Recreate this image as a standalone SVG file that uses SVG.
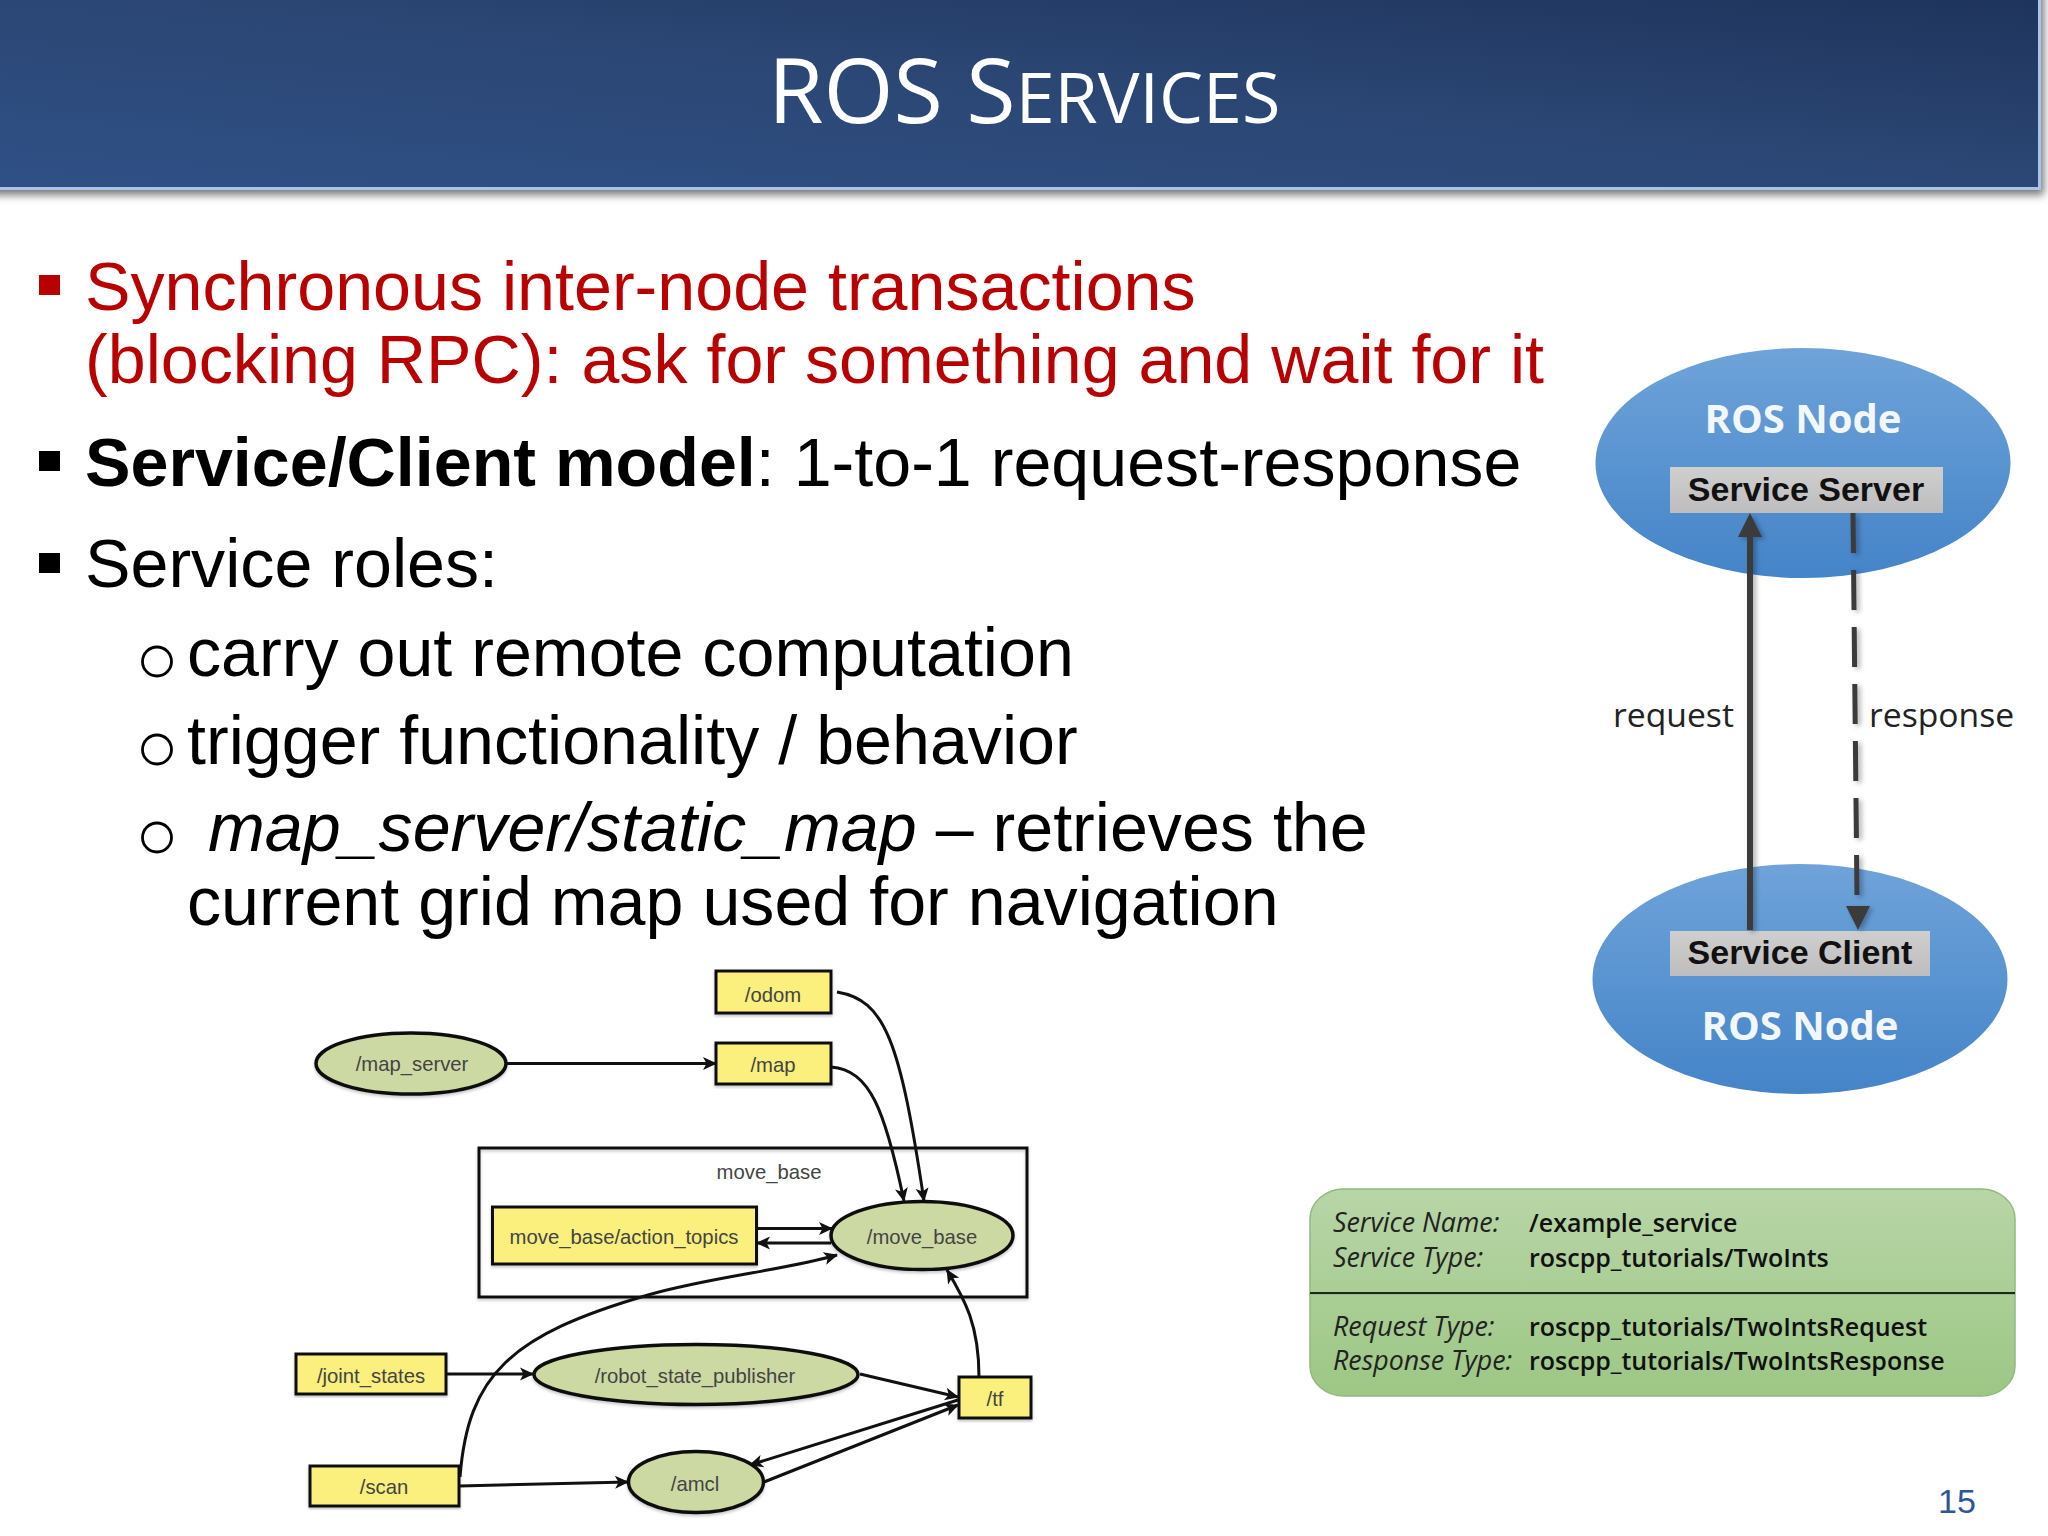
<svg xmlns="http://www.w3.org/2000/svg" width="2048" height="1536" viewBox="0 0 2048 1536">
<style>
.b{font-family:"Liberation Sans",Arial,sans-serif;font-size:68.200px;fill:#000}
.red{fill:#b80000}
.rc{fill:#fbef7e;stroke:#111;stroke-width:3}
.el{fill:#cdd9a3;stroke:#111;stroke-width:3.500}
.gl{font-family:"Liberation Sans",Arial,sans-serif;font-size:20.300px;fill:#444;text-anchor:middle}
.e{fill:none;stroke:#111;stroke-width:3;marker-end:url(#ah)}
.grn{fill:#111;font-family:"Open Sans","Noto Sans",sans-serif}
.it{font-style:italic;fill:#222;font-size:26.800px}
.sm{font-weight:600;font-size:25px}
.rn{font-family:"Open Sans","Noto Sans",sans-serif;font-weight:700;font-size:40px;fill:#f1f7fb}
.sv{font-family:"Liberation Sans",Arial,sans-serif;font-weight:700;font-size:34px;fill:#111}
.lab{font-family:"Open Sans","Noto Sans",sans-serif;font-size:33.700px;fill:#222}
</style>
<defs>
<linearGradient id="hdr" x1="0" y1="1" x2="1" y2="0"><stop offset="0" stop-color="#2f5086"/><stop offset="0.55" stop-color="#2b4673"/><stop offset="1" stop-color="#1e345c"/></linearGradient>
<linearGradient id="blue" x1="0" y1="0" x2="0" y2="1"><stop offset="0" stop-color="#6fa3d9"/><stop offset="1" stop-color="#4484c8"/></linearGradient>
<linearGradient id="grn" x1="0" y1="0" x2="0" y2="1"><stop offset="0" stop-color="#b8d5a7"/><stop offset="1" stop-color="#9dc785"/></linearGradient>
<linearGradient id="gb" x1="0" y1="0" x2="0" y2="1"><stop offset="0" stop-color="#cfcfcf"/><stop offset="1" stop-color="#bdbdbd"/></linearGradient>
<filter id="hs" x="-2%" y="-10%" width="104%" height="125%"><feGaussianBlur stdDeviation="4"/></filter>
<filter id="ds" x="-20%" y="-20%" width="140%" height="140%"><feDropShadow dx="3" dy="2" stdDeviation="2.500" flood-color="#000" flood-opacity="0.3"/></filter>
<filter id="gs" x="-5%" y="-10%" width="110%" height="120%"><feDropShadow dx="0" dy="2" stdDeviation="1.500" flood-color="#000" flood-opacity="0.22"/></filter>
<marker id="ah" markerUnits="userSpaceOnUse" markerWidth="16" markerHeight="16" refX="14" refY="8" orient="auto"><path d="M1 1.500 L15 8 L1 14.500 L4.500 8 Z" fill="#111"/></marker>
</defs>
<rect width="2048" height="1536" fill="#fff"/>
<g id="header">
<rect x="-20" y="-20" width="2064" height="215" fill="#777" filter="url(#hs)"/>
<rect x="0" y="0" width="2041" height="190" fill="#a9c4e8"/>
<rect x="0" y="0" width="2038" height="187" fill="url(#hdr)"/>
<text x="768" y="123" font-family="'Open Sans','Noto Sans',sans-serif" font-size="90" fill="#fff">ROS S<tspan font-size="70">ERVICES</tspan></text>
</g>
<g id="bullets">
<rect x="39" y="275" width="21" height="20" fill="#b80000"/>
<rect x="39" y="451" width="21" height="20" fill="#000"/>
<rect x="39" y="553" width="21" height="20" fill="#000"/>
<circle cx="157" cy="661.500" r="14.500" fill="none" stroke="#000" stroke-width="2.800"/>
<circle cx="157" cy="749.500" r="14.500" fill="none" stroke="#000" stroke-width="2.800"/>
<circle cx="157" cy="837.500" r="14.500" fill="none" stroke="#000" stroke-width="2.800"/>
<text class="b red" x="85" y="310">Synchronous inter-node transactions</text>
<text class="b red" x="85" y="383">(blocking RPC): ask for something and wait for it</text>
<text class="b" x="85" y="486"><tspan font-weight="700">Service/Client model</tspan>: 1-to-1 request-response</text>
<text class="b" x="85" y="587">Service roles:</text>
<text class="b" x="187" y="676">carry out remote computation</text>
<text class="b" x="187" y="764">trigger functionality / behavior</text>
<text class="b" x="208" y="851"><tspan font-style="italic">map_server/static_map</tspan> – retrieves the</text>
<text class="b" x="187" y="925">current grid map used for navigation</text>
</g>
<g id="ros-server">
<ellipse cx="1803" cy="463" rx="207.500" ry="115" fill="url(#blue)"/>
<text class="rn" x="1803" y="433" text-anchor="middle">ROS Node</text>
<rect fill="url(#gb)" x="1670" y="467" width="273" height="46"/>
<text class="sv" x="1806" y="501" text-anchor="middle">Service Server</text>
</g>
<g id="ros-client">
<ellipse cx="1800" cy="979" rx="207.500" ry="115" fill="url(#blue)"/>
<rect fill="url(#gb)" x="1670" y="931" width="260" height="45"/>
<text class="sv" x="1800" y="964" text-anchor="middle">Service Client</text>
<text class="rn" x="1800" y="1040" text-anchor="middle">ROS Node</text>
</g>
<g id="ros-links">
<g filter="url(#ds)">
<path d="M1750 930V530" stroke="#3a3a3a" stroke-width="6" fill="none"/>
<path d="M1750 513L1762 537H1738Z" fill="#3a3a3a"/>
<path d="M1853 513L1857 895" stroke="#3a3a3a" stroke-width="5" stroke-dasharray="40 17" fill="none"/>
<path d="M1858 930L1870 906H1846Z" fill="#3a3a3a"/>
</g>
<text class="lab" x="1613" y="727">request</text>
<text class="lab" x="1869" y="727">response</text>
</g>
<g id="service-info">
<rect x="1310" y="1189" width="705" height="207" rx="34" ry="30" fill="url(#grn)" stroke="#93b97f" stroke-width="1.500"/>
<rect x="1310" y="1292" width="705" height="2" fill="#1c2b1c" filter="url(#gs)"/>
<text class="grn it" x="1333" y="1232">Service Name:</text>
<text class="grn it" x="1333" y="1267">Service Type:</text>
<text class="grn it" x="1333" y="1336">Request Type:</text>
<text class="grn it" x="1333" y="1370">Response Type:</text>
<text class="grn sm" x="1529" y="1232">/example_service</text>
<text class="grn sm" x="1529" y="1267">roscpp_tutorials/TwoInts</text>
<text class="grn sm" x="1529" y="1336">roscpp_tutorials/TwoIntsRequest</text>
<text class="grn sm" x="1529" y="1370">roscpp_tutorials/TwoIntsResponse</text>
</g>
<text x="1938" y="1513" font-family="'Liberation Sans',Arial,sans-serif" font-size="34" fill="#2f5597">15</text>
<g id="cluster-move_base">
<rect x="479" y="1148" width="548" height="149" fill="none" stroke="#111" stroke-width="3" filter="url(#gs)"/>
<text class="gl" x="769" y="1179">move_base</text>
</g>
<g id="connectors">
<path class="e" d="M506 1063.500H716"/>
<path class="e" d="M837 992C885 1000 900 1040 924 1201"/>
<path class="e" d="M831 1067C870 1070 885 1110 904 1201"/>
<path class="e" d="M757 1228.500H832"/>
<path class="e" d="M831 1243H757"/>
<path class="e" d="M460 1477C468 1375 510 1335 648 1295C710 1277 780 1271 837 1255"/>
<path class="e" d="M979 1377C979 1325 965 1300 947 1270"/>
<path class="e" d="M446 1374H533"/>
<path class="e" d="M860 1374L958 1397"/>
<path class="e" d="M958 1400L750 1465"/>
<path class="e" d="M764 1482L958 1405"/>
<path class="e" d="M459 1486L628 1482"/>
</g>
<g id="odom"><rect class="rc" x="716" y="971" width="115" height="42" filter="url(#gs)"/><text class="gl" x="773" y="1002">/odom</text></g>
<g id="map"><rect class="rc" x="716" y="1043" width="115" height="41" filter="url(#gs)"/><text class="gl" x="773" y="1072">/map</text></g>
<g id="map_server"><ellipse class="el" cx="411" cy="1063.500" rx="95" ry="30.500" filter="url(#gs)"/><text class="gl" x="412" y="1071">/map_server</text></g>
<g id="action_topics"><rect class="rc" x="492.500" y="1207" width="264" height="57" filter="url(#gs)"/><text class="gl" x="624" y="1244">move_base/action_topics</text></g>
<g id="move_base"><ellipse class="el" cx="922" cy="1235.500" rx="91" ry="34" filter="url(#gs)"/><text class="gl" x="922" y="1244">/move_base</text></g>
<g id="joint_states"><rect class="rc" x="296" y="1354" width="150" height="40" filter="url(#gs)"/><text class="gl" x="371" y="1383">/joint_states</text></g>
<g id="robot_state_publisher"><ellipse class="el" cx="696" cy="1374.500" rx="162" ry="30" filter="url(#gs)"/><text class="gl" x="695" y="1383">/robot_state_publisher</text></g>
<g id="tf"><rect class="rc" x="959" y="1377" width="72" height="41" filter="url(#gs)"/><text class="gl" x="995" y="1406">/tf</text></g>
<g id="scan"><rect class="rc" x="310" y="1466" width="149" height="40" filter="url(#gs)"/><text class="gl" x="384" y="1494">/scan</text></g>
<g id="amcl"><ellipse class="el" cx="696" cy="1482" rx="67.500" ry="30.500" filter="url(#gs)"/><text class="gl" x="695" y="1491">/amcl</text></g>
</svg>
